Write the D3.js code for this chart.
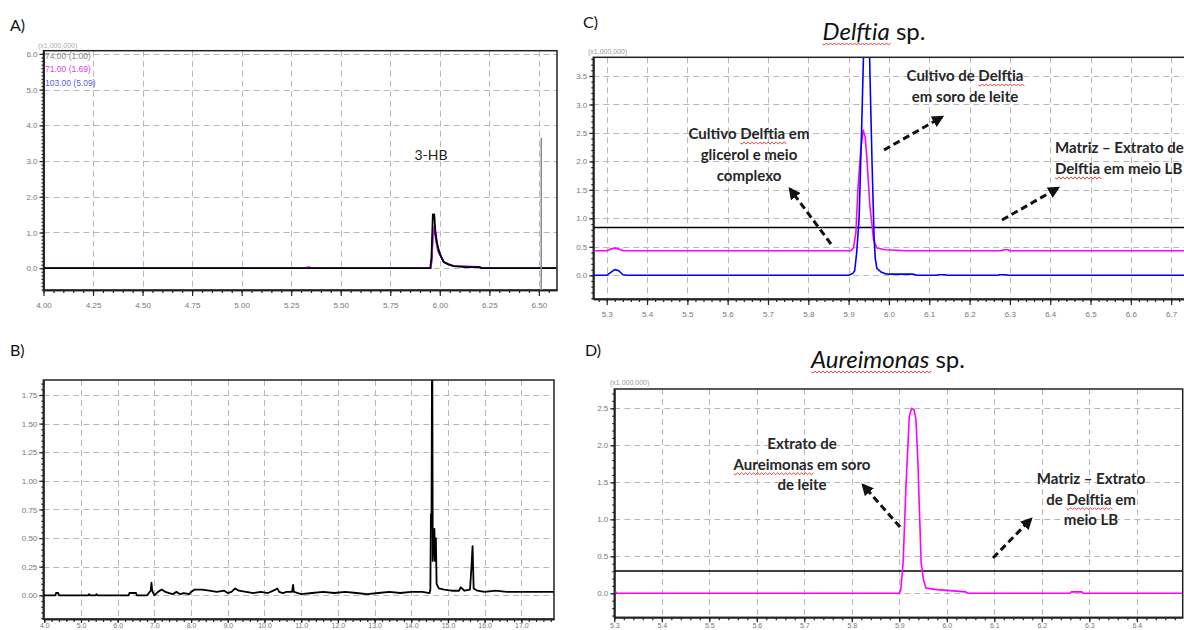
<!DOCTYPE html>
<html><head><meta charset="utf-8">
<script src="https://cdn.jsdelivr.net/npm/d3@7"></script>
<style>body{margin:0;background:#fff}svg{display:block}</style>
</head><body>
<svg id="c" width="1184" height="630"></svg>
<script>
// ---------- DATA ----------
// Panel A (3-HB, ions)
const aXTicks = [4.00,4.25,4.50,4.75,5.00,5.25,5.50,5.75,6.00,6.25,6.50];
const aXLabels = ["4.00","4.25","4.50","4.75","5.00","5.25","5.50","5.75","6.00","6.25","6.50"];
const aYTicks = [0,1,2,3,4,5,6];
const aYLabels = ["0.0","1.0","2.0","3.0","4.0","5.0","6.0"];
const aLegend = ["74.00 (1.00)","71.00 (1.69)","103.00 (5.09)"];
const aBlack = [[4.0,0],[5.952,0],[5.958,0.32],[5.965,1.51],[5.972,1.51],[5.978,1.0],[5.986,0.7],[5.999,0.42],[6.019,0.18],[6.045,0.1],[6.07,0.06],[6.13,0.03],[6.2,0.03],[6.21,0],[6.588,0]];
const aMagenta = [[4.0,0],[5.325,0],[5.33,0.03],[5.345,0.03],[5.35,0],[5.955,0],[5.96,0.3],[5.967,1.0],[5.972,1.17],[5.978,1.05],[5.986,0.65],[5.999,0.4],[6.02,0.17],[6.07,0.06],[6.2,0.03],[6.21,0],[6.588,0]];
const aBlue = [[4.0,0],[5.955,0],[5.96,0.25],[5.965,1.05],[5.972,1.1],[5.98,0.8],[5.99,0.5],[6.0,0.38],[6.02,0.17],[6.07,0.06],[6.2,0.04],[6.215,0],[6.588,0]];
const aMarker = [6.512, 3.65];
const aPeakLabel = "3-HB";

// Panel B (TIC)
const bXTicks = [4,5,6,7,8,9,10,11,12,13,14,15,16,17];
const bXLabels = ["4.0","5.0","6.0","7.0","8.0","9.0","10.0","11.0","12.0","13.0","14.0","15.0","16.0","17.0"];
const bYTicks = [0,0.25,0.5,0.75,1.0,1.25,1.5,1.75];
const bYLabels = ["0.00","0.25","0.50","0.75","1.00","1.25","1.50","1.75"];
const bTrace = [[3.97,0],[4.3,0],[4.32,0.02],[4.38,0.02],[4.4,0],[5.2,0],[5.22,0.01],[5.25,0],[5.4,0],[5.42,0.01],[5.45,0],
 [6.3,0],[6.32,0.02],[6.5,0.02],[6.52,0],[6.8,0],[6.85,0.02],[6.9,0.04],[6.92,0.11],[6.94,0.04],[6.97,0.02],[7.0,0],[7.1,0.03],[7.2,0.05],[7.3,0.03],[7.4,0.02],[7.5,0.01],[7.6,0.03],[7.7,0.01],[7.8,0.02],[7.95,0.01],
 [8.0,0.03],[8.1,0.05],[8.3,0.05],[8.5,0.04],[8.7,0.03],[8.9,0.04],[9.0,0.02],[9.1,0.03],[9.2,0.06],[9.3,0.04],[9.5,0.03],[9.7,0.02],[9.9,0.03],[10.1,0.02],[10.3,0.05],[10.35,0.06],[10.4,0.03],[10.5,0.02],[10.6,0.03],[10.75,0.03],[10.78,0.09],[10.8,0.03],
 [11.0,0.01],[11.3,0.02],[11.6,0.03],[11.9,0.02],[12.2,0.03],[12.5,0.02],[12.8,0.01],[13.1,0.02],[13.4,0.03],[13.7,0.02],[14.0,0.03],[14.3,0.03],[14.5,0.02],
 [14.52,0.05],[14.535,0.71],[14.55,0.6],[14.57,2.5],[14.585,0.3],[14.63,0.58],[14.645,0.3],[14.67,0.5],[14.69,0.1],[14.75,0.06],[14.9,0.05],[15.1,0.04],[15.3,0.04],[15.35,0.07],[15.45,0.04],
 [15.6,0.05],[15.64,0.25],[15.67,0.43],[15.7,0.06],[15.8,0.04],[16.0,0.03],[16.3,0.04],[16.6,0.03],[17.0,0.03],[17.4,0.03],[17.9,0.03]];

// Panel C (Delftia sp.)
const cXTicks = [5.3,5.4,5.5,5.6,5.7,5.8,5.9,6.0,6.1,6.2,6.3,6.4,6.5,6.6,6.7];
const cXLabels = ["5.3","5.4","5.5","5.6","5.7","5.8","5.9","6.0","6.1","6.2","6.3","6.4","6.5","6.6","6.7"];
const cYTicks = [0,0.5,1.0,1.5,2.0,2.5,3.0,3.5];
const cYLabels = ["0.0","0.5","1.0","1.5","2.0","2.5","3.0","3.5"];
const cBlue = [[5.26,0],[5.3,0],[5.31,0.05],[5.32,0.1],[5.33,0.08],[5.34,0.01],[5.35,0],[5.9,0],[5.91,0.03],[5.915,0.08],[5.92,0.4],[5.926,1.0],[5.932,2.5],[5.937,3.9],[5.94,4.6],
 [5.95,4.6],[5.953,3.5],[5.958,2.0],[5.963,0.7],[5.966,0.3],[5.97,0.12],[5.98,0.06],[5.99,0.03],[6.0,0.02],[6.06,0.02],[6.07,0],[6.118,0],[6.123,0.01],[6.14,0.01],[6.145,0],[6.27,0],[6.275,0.01],[6.29,0.01],[6.295,0],[6.75,0]];
const cMagenta = [[5.26,0.43],[5.3,0.43],[5.31,0.46],[5.32,0.48],[5.33,0.46],[5.34,0.43],[5.905,0.43],[5.912,0.48],[5.918,0.75],[5.923,1.5],[5.93,2.2],[5.936,2.55],[5.941,2.43],[5.945,2.08],[5.953,1.2],[5.962,0.62],[5.97,0.48],[5.99,0.45],[6.044,0.43],[6.28,0.43],[6.285,0.45],[6.295,0.45],[6.3,0.43],[6.75,0.43]];
const cMatrix = [[5.26,0.84],[6.75,0.84]];

// Panel D (Aureimonas sp.)
const dXTicks = [5.3,5.4,5.5,5.6,5.7,5.8,5.9,6.0,6.1,6.2,6.3,6.4];
const dXLabels = ["5.3","5.4","5.5","5.6","5.7","5.8","5.9","6.0","6.1","6.2","6.3","6.4"];
const dYTicks = [0,0.5,1.0,1.5,2.0,2.5];
const dYLabels = ["0.0","0.5","1.0","1.5","2.0","2.5"];
const dMagenta = [[5.3,0.02],[5.303,0.02],[5.305,0],[5.9,0],[5.903,0.045],[5.908,0.41],[5.914,1.44],[5.921,2.39],[5.926,2.5],[5.931,2.48],[5.935,2.35],[5.939,1.8],[5.943,1.0],[5.946,0.41],[5.951,0.18],[5.956,0.07],[5.98,0.05],[6.0,0.04],[6.04,0.02],[6.045,0],[6.259,0],[6.262,0.02],[6.284,0.02],[6.287,0],[6.497,0]];
const dMatrix = [[5.3,0.30],[6.497,0.30]];

// ---------- DRAW ----------
const svg = d3.select("#c");
const defs = svg.append("defs");
defs.append("marker").attr("id","arr").attr("viewBox","0 0 10 10").attr("refX",8).attr("refY",5)
  .attr("markerWidth",12).attr("markerHeight",12).attr("markerUnits","userSpaceOnUse").attr("orient","auto")
  .append("path").attr("d","M0,0L10,5L0,10z").attr("fill","#111");

const TICKFONT = "'Liberation Sans', Arial, sans-serif";
const TXTFONT = "Lato, 'Open Sans', sans-serif";

function panel(cfg){
  const x = d3.scaleLinear().domain(cfg.xDomain).range([cfg.left, cfg.right]);
  const y = d3.scaleLinear().domain(cfg.yDomain).range([cfg.bottom, cfg.top]);
  const g = svg.append("g");
  const cid = "clip" + cfg.name;
  defs.append("clipPath").attr("id", cid).append("rect")
    .attr("x", cfg.left).attr("y", cfg.top).attr("width", cfg.right - cfg.left).attr("height", cfg.bottom - cfg.top);
  // grid
  const grid = g.append("g").attr("stroke","#b8b8b8").attr("stroke-width",1).attr("stroke-dasharray","6,4");
  grid.selectAll("line.v").data(cfg.xTicks).join("line").attr("class","v")
    .attr("x1", d=>Math.round(x(d))+0.5).attr("x2", d=>Math.round(x(d))+0.5).attr("y1", cfg.top).attr("y2", cfg.bottom);
  grid.selectAll("line.h").data(cfg.yTicks).join("line").attr("class","h")
    .attr("y1", d=>Math.round(y(d))+0.5).attr("y2", d=>Math.round(y(d))+0.5).attr("x1", cfg.left).attr("x2", cfg.right);
  // axes
  const xm = d3.range(cfg.xDomain[0], cfg.xDomain[1], cfg.xMinor).map(v=>+(Math.ceil(v/cfg.xMinor-1e-6)*cfg.xMinor).toFixed(4));
  const ym = d3.range(cfg.yDomain[0], cfg.yDomain[1], cfg.yMinor).map(v=>+(Math.ceil(v/cfg.yMinor-1e-6)*cfg.yMinor).toFixed(4));
  const xts = cfg.xTickSize || 6, xpad = (cfg.xPad == null ? 6 : cfg.xPad);
  const ax1 = g.append("g").attr("transform",`translate(0,${cfg.bottom})`)
    .call(d3.axisBottom(x).tickValues(xm.filter(v=>v>=cfg.xDomain[0]&&v<=cfg.xDomain[1])).tickSize(3).tickSizeOuter(0).tickFormat(""));
  const ax2 = g.append("g").attr("transform",`translate(0,${cfg.bottom})`)
    .call(d3.axisBottom(x).tickValues(cfg.xTicks).tickSize(xts).tickSizeOuter(0).tickPadding(xpad).tickFormat((d,i)=>cfg.xLabels[i]));
  const ay1 = g.append("g").attr("transform",`translate(${cfg.left},0)`)
    .call(d3.axisLeft(y).tickValues(ym.filter(v=>v>=cfg.yDomain[0]&&v<=cfg.yDomain[1])).tickSize(2).tickSizeOuter(0).tickFormat(""));
  const ay2 = g.append("g").attr("transform",`translate(${cfg.left},0)`)
    .call(d3.axisLeft(y).tickValues(cfg.yTicks).tickSize(4).tickSizeOuter(0).tickPadding(2).tickFormat((d,i)=>cfg.yLabels[i]));
  [ax1,ax2,ay1,ay2].forEach(a=>{
    a.select(".domain").attr("stroke","#222").attr("stroke-width",1.5);
    a.selectAll(".tick line").attr("stroke","#222").attr("stroke-width",1.2);
    a.selectAll("text").attr("fill","#777").style("font-family",TICKFONT).style("font-size","8px");
  });
  if (cfg.xFont) ax2.selectAll("text").style("font-size", cfg.xFont + "px");
  // series
  const line = d3.line().x(d=>x(d[0])).y(d=>y(d[1]));
  cfg.series.forEach(s=>{
    g.append("path").attr("clip-path",`url(#${cid})`).attr("d", line(s.data))
      .attr("fill","none").attr("stroke", s.color).attr("stroke-width", s.width).attr("stroke-linejoin","round");
  });
  // frame
  g.append("rect").attr("x",cfg.left).attr("y",cfg.top).attr("width",cfg.right-cfg.left).attr("height",cfg.bottom-cfg.top)
    .attr("fill","none").attr("stroke","#222").attr("stroke-width",1.5);
  return {x, y, g};
}

function wavy(x0, x1, yy){
  let p = `M${x0},${yy}`;
  let i = 0;
  for (let xx = x0; xx < x1; xx += 2, i++) p += `L${xx+2},${yy + (i%2 ? -1.1 : 1.1)}`;
  svg.append("path").attr("d", p).attr("fill","none").attr("stroke","#e8352f").attr("stroke-width",0.9);
}

function textLine(str, x, y, opts){
  const t = svg.append("text").attr("x", x).attr("y", y)
    .attr("text-anchor", opts.anchor || "middle")
    .style("font-family", TXTFONT).style("font-size", (opts.size||15)+"px")
    .style("font-weight", opts.weight||700).attr("fill", opts.color||"#262626");
  if (opts.italicWord && str.indexOf(opts.italicWord) === 0){
    t.append("tspan").style("font-style","italic").text(opts.italicWord);
    t.append("tspan").text(str.slice(opts.italicWord.length));
  } else {
    t.text(str);
  }
  if (opts.underline){
    const idx = str.indexOf(opts.underline);
    if (idx >= 0){
      const n = t.node();
      const sx = n.getStartPositionOfChar(idx).x;
      const w = n.getSubStringLength(idx, opts.underline.length);
      wavy(sx, sx + w, y + (opts.ulOff||4));
    }
  }
  return t;
}

function arrow(x1,y1,x2,y2){
  svg.append("line").attr("x1",x1).attr("y1",y1).attr("x2",x2).attr("y2",y2)
    .attr("stroke","#111").attr("stroke-width",3).attr("stroke-dasharray","7,4").attr("marker-end","url(#arr)");
}

// Panel A
const A = panel({name:"A", left:43.5, right:557, top:50.7, bottom:290,
  xDomain:[4.0, 6.5915], yDomain:[-0.61, 6.09], xMinor:0.05, yMinor:0.1,
  xTicks:aXTicks, xLabels:aXLabels, yTicks:aYTicks, yLabels:aYLabels,
  series:[{data:aBlue,color:"#2020ff",width:1.6},{data:aMagenta,color:"#ff20ff",width:1.6},{data:aBlack,color:"#000",width:1.8}]});
A.g.append("line").attr("x1",A.x(aMarker[0])).attr("x2",A.x(aMarker[0])).attr("y1",A.y(aMarker[1])).attr("y2",290)
  .attr("stroke","#8a8a8a").attr("stroke-width",1.5);
svg.append("text").attr("x",38).attr("y",48).text("(x1,000,000)").attr("fill","#aaa").style("font-family",TICKFONT).style("font-size","7px");
const legCols = ["#888","#e040e0","#5a5ae6"];
aLegend.forEach((s,i)=>{
  svg.append("text").attr("x",45).attr("y",58.5+i*13.5).text(s).attr("fill",legCols[i]).style("font-family",TICKFONT).style("font-size","8.5px");
});
textLine(aPeakLabel, 431, 160, {size:14, weight:400, color:"#222"});

// Panel B
panel({name:"B", left:43.3, right:554, top:380, bottom:619,
  xDomain:[3.973, 17.889], yDomain:[-0.207, 1.881], xMinor:0.2, yMinor:0.05,
  xTicks:bXTicks, xLabels:bXLabels, yTicks:bYTicks, yLabels:bYLabels, xTickSize:4, xPad:0.5, xFont:7,
  series:[{data:bTrace,color:"#000",width:1.8}]});

// Panel C
panel({name:"C", left:593.3, right:1192, top:57.3, bottom:299,
  xDomain:[5.2667, 6.7517], yDomain:[-0.416, 3.828], xMinor:0.02, yMinor:0.1,
  xTicks:cXTicks, xLabels:cXLabels, yTicks:cYTicks, yLabels:cYLabels,
  series:[{data:cMatrix,color:"#000",width:1.5},{data:cMagenta,color:"#ff00ff",width:1.6},{data:cBlue,color:"#0000ff",width:1.6}]});
svg.append("text").attr("x",588).attr("y",54).text("(x1,000,000)").attr("fill","#999").style("font-family",TICKFONT).style("font-size","7px");

// Panel D
panel({name:"D", left:614.3, right:1182.7, top:389, bottom:617.3,
  xDomain:[5.3, 6.4966], yDomain:[-0.324, 2.761], xMinor:0.02, yMinor:0.1,
  xTicks:dXTicks, xLabels:dXLabels, yTicks:dYTicks, yLabels:dYLabels, xTickSize:5, xPad:1, xFont:7,
  series:[{data:dMatrix,color:"#000",width:1.5},{data:dMagenta,color:"#ff00ff",width:1.6}]});
svg.append("text").attr("x",610).attr("y",385).text("(x1,000,000)").attr("fill","#999").style("font-family",TICKFONT).style("font-size","7px");

// Panel letters & titles
textLine("A)", 10, 31, {size:16, weight:400, anchor:"start", color:"#111"});
textLine("B)", 10, 356, {size:16, weight:400, anchor:"start", color:"#111"});
textLine("C)", 583, 28, {size:16, weight:400, anchor:"start", color:"#111"});
textLine("D)", 585, 356, {size:16, weight:400, anchor:"start", color:"#111"});
textLine("Delftia sp.", 874, 40, {size:24, weight:400, color:"#111", italicWord:"Delftia", underline:"Delftia", ulOff:4});
textLine("Aureimonas sp.", 888, 368, {size:24, weight:400, color:"#111", italicWord:"Aureimonas", underline:"Aureimonas", ulOff:4});

// Annotations C
["Cultivo Delftia em","glicerol e meio","complexo"].forEach((s,i)=>textLine(s, 749, 139+i*21, {underline:"Delftia"}));
arrow(831, 244, 790, 189);
["Cultivo de Delftia","em soro de leite"].forEach((s,i)=>textLine(s, 965, 81+i*21, {underline:"Delftia"}));
arrow(884, 150, 942, 117);
["Matriz \u2013 Extrato de","Delftia em meio LB"].forEach((s,i)=>textLine(s, 1055, 153+i*21, {anchor:"start", underline:"Delftia"}));
arrow(1002, 220, 1058, 188);

// Annotations D
["Extrato de","Aureimonas em soro","de leite"].forEach((s,i)=>textLine(s, 802, 449+i*20.7, {underline:"Aureimonas"}));
arrow(900, 527, 863, 485);
["Matriz \u2013 Extrato","de Delftia em","meio LB"].forEach((s,i)=>textLine(s, 1091, 484+i*20.7, {underline:"Delftia"}));
arrow(993, 558, 1031, 519);
</script>
</body></html>
